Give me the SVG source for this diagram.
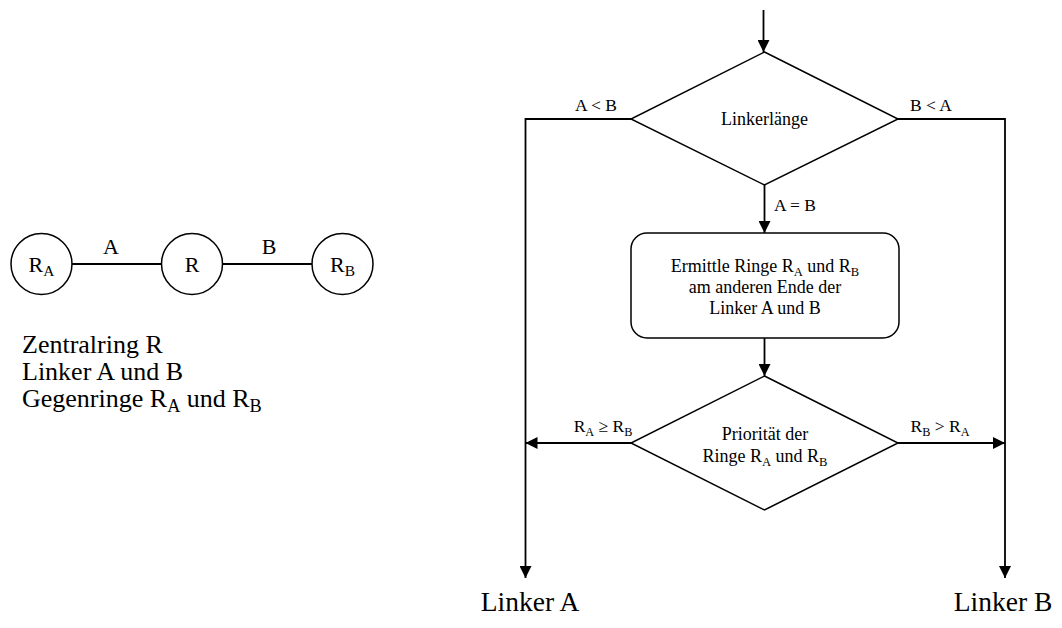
<svg xmlns="http://www.w3.org/2000/svg" width="1062" height="628" viewBox="0 0 1062 628">
  <style>
    .shape { fill: #ffffff; stroke: #000000; stroke-width: 1.5; }
    .wire { fill: none; stroke: #000000; stroke-width: 1.8; }
    text { font-family: "Liberation Serif", "Times New Roman", serif; fill: #000000; }
    .big { font-size: 26px; }
    .ring { font-size: 22px; text-anchor: middle; }
    .box { font-size: 18px; text-anchor: middle; }
    .lbl { font-size: 17.5px; text-anchor: middle; }
    .end { font-size: 27.5px; text-anchor: middle; }
    .sub { font-size: 70%; }
  </style>
  <defs>
    <marker id="arrow" markerWidth="12" markerHeight="12" refX="12" refY="6" orient="auto" markerUnits="userSpaceOnUse">
      <path d="M0,0 L12,6 L0,12 Z" fill="#000000"/>
    </marker>
  </defs>

  <!-- ring scheme: R_A - A - R - B - R_B -->
  <g id="ring-scheme">
    <g id="link-lines">
      <line class="wire" x1="72" y1="264" x2="161" y2="264"/>
      <line class="wire" x1="223" y1="264" x2="312" y2="264"/>
    </g>
    <g id="ring-RA">
      <circle class="shape" cx="41.5" cy="264" r="30.5"/>
      <text class="ring" x="41.5" y="272">R<tspan class="sub" dy="4">A</tspan></text>
    </g>
    <g id="ring-R">
      <circle class="shape" cx="192" cy="264" r="30.5"/>
      <text class="ring" x="192" y="272">R</text>
    </g>
    <g id="ring-RB">
      <circle class="shape" cx="342.5" cy="264" r="30.5"/>
      <text class="ring" x="342.5" y="272">R<tspan class="sub" dy="4">B</tspan></text>
    </g>
    <text class="ring" x="111" y="254">A</text>
    <text class="ring" x="269" y="254">B</text>
    <g id="legend">
      <text class="big" x="22" y="353">Zentralring R</text>
      <text class="big" x="22" y="380">Linker A und B</text>
      <text class="big" x="22" y="407">Gegenringe R<tspan class="sub" dy="5">A</tspan><tspan dy="-5"> und R</tspan><tspan class="sub" dy="5">B</tspan></text>
    </g>
  </g>

  <!-- flowchart connectors -->
  <g id="connectors">
    <path class="wire" d="M763.5,10 V52" marker-end="url(#arrow)"/>
    <path class="wire" d="M631,119 H525.5 V578" marker-end="url(#arrow)"/>
    <path class="wire" d="M898,119 H1005 V578" marker-end="url(#arrow)"/>
    <path class="wire" d="M764.5,185 V233" marker-end="url(#arrow)"/>
    <path class="wire" d="M764.5,338 V376" marker-end="url(#arrow)"/>
    <path class="wire" d="M631,443 H525.5" marker-end="url(#arrow)"/>
    <path class="wire" d="M898,443 H1005" marker-end="url(#arrow)"/>
  </g>

  <!-- connector labels -->
  <g id="connector-labels">
    <text class="lbl" x="596" y="111">A &lt; B</text>
    <text class="lbl" x="931" y="111">B &lt; A</text>
    <text class="lbl" x="795" y="211">A = B</text>
    <text class="lbl" x="603" y="432">R<tspan class="sub" dy="4">A</tspan><tspan dy="-4"> ≥ R</tspan><tspan class="sub" dy="4">B</tspan></text>
    <text class="lbl" x="940" y="432">R<tspan class="sub" dy="4">B</tspan><tspan dy="-4"> &gt; R</tspan><tspan class="sub" dy="4">A</tspan></text>
  </g>

  <g id="decision-length">
    <polygon class="shape" points="764.5,52 898,119 764.5,185 631,119"/>
    <text class="box" x="764.5" y="125">Linkerlänge</text>
  </g>

  <g id="process-rings">
    <rect class="shape" x="631" y="233" width="268" height="105" rx="16" ry="16"/>
    <text class="box" x="765" y="272">Ermittle Ringe R<tspan class="sub" dy="4">A</tspan><tspan dy="-4"> und R</tspan><tspan class="sub" dy="4">B</tspan></text>
    <text class="box" x="765" y="293">am anderen Ende der</text>
    <text class="box" x="765" y="314">Linker A und B</text>
  </g>

  <g id="decision-priority">
    <polygon class="shape" points="764.5,376 898,443 764.5,510 631,443"/>
    <text class="box" x="765" y="440">Priorität der</text>
    <text class="box" x="765" y="462">Ringe R<tspan class="sub" dy="4">A</tspan><tspan dy="-4"> und R</tspan><tspan class="sub" dy="4">B</tspan></text>
  </g>

  <g id="result-A">
    <text class="end" x="530" y="611">Linker A</text>
  </g>
  <g id="result-B">
    <text class="end" x="1003" y="611">Linker B</text>
  </g>
</svg>
